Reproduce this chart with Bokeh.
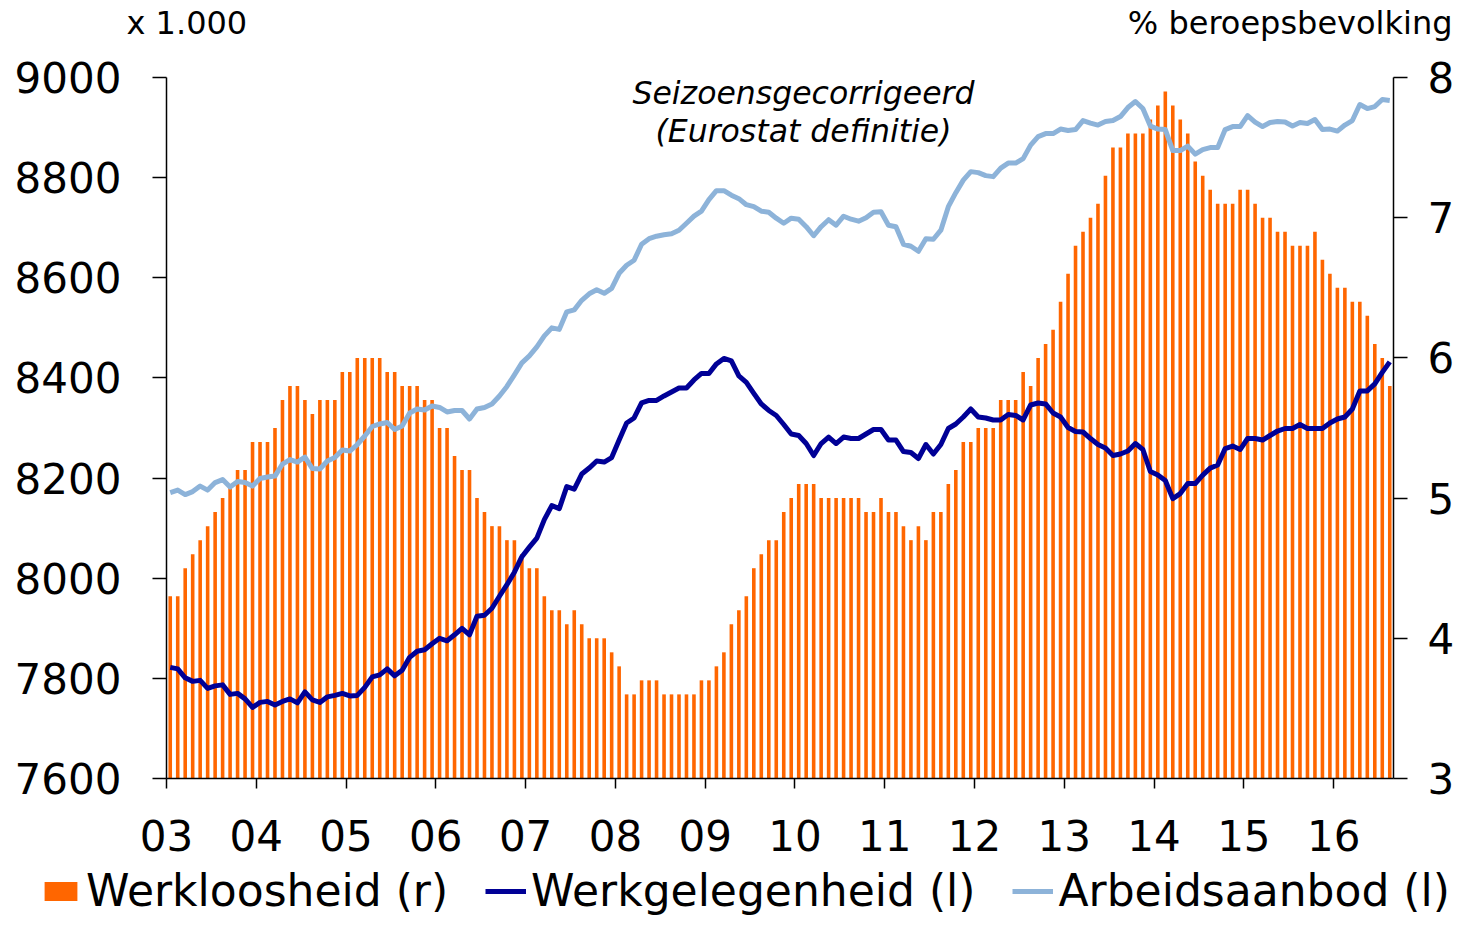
from bokeh.plotting import figure
from bokeh.models import (Range1d, LinearAxis, FixedTicker, Legend, LegendItem, Label)
from bokeh.embed import file_html
from bokeh.resources import INLINE

# ---- data (monthly, Jan 2003 .. Aug 2016) ----
year_labels = ["03", "04", "05", "06", "07", "08", "09", "10", "11", "12", "13", "14", "15", "16"]

werkloosheid = [
    4.3, 4.3, 4.5, 4.6, 4.7, 4.8, 4.9, 5.0, 5.1, 5.2, 5.2, 5.4, 5.4, 5.4, 5.5, 5.7, 5.8, 5.8, 5.7, 5.6,
    5.7, 5.7, 5.7, 5.9, 5.9, 6.0, 6.0, 6.0, 6.0, 5.9, 5.9, 5.8, 5.8,
    5.8, 5.7, 5.7, 5.5, 5.5, 5.3, 5.2, 5.2, 5.0, 4.9, 4.8, 4.8, 4.7, 4.7, 4.6, 4.5, 4.5, 4.3, 4.2, 4.2,
    4.1, 4.2, 4.1, 4.0, 4.0, 4.0, 3.9, 3.8, 3.6, 3.6, 3.7, 3.7,
    3.7, 3.6, 3.6, 3.6, 3.6, 3.6, 3.7, 3.7, 3.8, 3.9, 4.1, 4.2, 4.3, 4.5, 4.6, 4.7, 4.7, 4.9, 5.0, 5.1,
    5.1, 5.1, 5.0, 5.0, 5.0, 5.0, 5.0, 5.0, 4.9, 4.9, 5.0, 4.9,
    4.9, 4.8, 4.7, 4.8, 4.7, 4.9, 4.9, 5.1, 5.2, 5.4, 5.4, 5.5, 5.5, 5.5, 5.7, 5.7, 5.7, 5.9, 5.8, 6.0,
    6.1, 6.2, 6.4, 6.6, 6.8, 6.9, 7.0, 7.1, 7.3, 7.5, 7.5, 7.6,
    7.6, 7.6, 7.7, 7.8, 7.9, 7.8, 7.7, 7.6, 7.4, 7.3, 7.2, 7.1, 7.1, 7.1, 7.2, 7.2, 7.1, 7.0, 7.0, 6.9,
    6.9, 6.8, 6.8, 6.8, 6.9, 6.7, 6.6, 6.5, 6.5, 6.4, 6.4, 6.3, 6.1, 6.0, 5.8,
]

werkgelegenheid = [
    7822, 7819, 7801, 7794, 7796, 7780, 7785, 7787, 7768, 7770, 7759, 7742, 7752, 7754, 7747, 7754, 7759,
    7751, 7773, 7757, 7752, 7763, 7766, 7770, 7765, 7766, 7782, 7803, 7807, 7819, 7805, 7816, 7842,
    7854, 7857, 7869, 7880, 7875, 7887, 7900, 7887, 7924, 7926, 7940, 7964, 7987, 8012, 8043, 8062,
    8080, 8117, 8145, 8139, 8183, 8178, 8208, 8220, 8234, 8232, 8241, 8276, 8310, 8320, 8350, 8355,
    8355, 8364, 8372, 8380, 8380, 8396, 8409, 8409, 8428, 8439, 8434, 8404, 8391, 8369, 8348, 8335,
    8325, 8307, 8288, 8285, 8269, 8245, 8269, 8282, 8269, 8282, 8279, 8279, 8288, 8297, 8297, 8276,
    8276, 8253, 8251, 8239, 8267, 8248, 8267, 8299, 8308, 8322, 8338, 8322, 8320, 8316, 8316, 8327,
    8325, 8316, 8346, 8350, 8348, 8330, 8322, 8301, 8293, 8292, 8279, 8267, 8260, 8245, 8248, 8254,
    8269, 8257, 8213, 8206, 8195, 8159, 8169, 8189, 8189, 8206, 8220, 8226, 8259, 8264, 8257, 8279,
    8279, 8276, 8285, 8294, 8299, 8299, 8307, 8299, 8299, 8299, 8310, 8318, 8322, 8338, 8374, 8374,
    8388, 8411, 8432,
]

arbeidsaanbod = [
    8171, 8176, 8167, 8173, 8184, 8176, 8191, 8197, 8182, 8193, 8191, 8184, 8199, 8202, 8204, 8228, 8237,
    8232, 8242, 8219, 8218, 8234, 8241, 8256, 8254, 8267, 8284, 8303, 8308, 8311, 8297, 8304, 8330,
    8338, 8336, 8344, 8341, 8332, 8335, 8335, 8318, 8338, 8341, 8348, 8364, 8383, 8406, 8430, 8444,
    8462, 8484, 8500, 8497, 8532, 8536, 8555, 8568, 8576, 8569, 8579, 8609, 8625, 8635, 8667, 8678,
    8683, 8686, 8688, 8695, 8709, 8723, 8733, 8756, 8774, 8774, 8765, 8758, 8746, 8742, 8733, 8731,
    8719, 8709, 8719, 8717, 8702, 8684, 8702, 8716, 8705, 8723, 8717, 8713, 8720, 8731, 8732, 8705,
    8702, 8667, 8663, 8653, 8678, 8677, 8695, 8742, 8770, 8795, 8812, 8810, 8804, 8802, 8819, 8829,
    8829, 8838, 8865, 8882, 8888, 8888, 8897, 8894, 8896, 8914, 8909, 8905, 8912, 8914, 8922, 8940,
    8952, 8938, 8903, 8897, 8896, 8854, 8854, 8863, 8847, 8856, 8860, 8860, 8896, 8902, 8902, 8924,
    8911, 8902, 8910, 8912, 8911, 8903, 8910, 8908, 8916, 8896, 8897, 8893, 8905, 8914, 8946, 8938,
    8942, 8956, 8954,
]

left_ticks = [7600, 7800, 8000, 8200, 8400, 8600, 8800, 9000]
right_ticks = [3, 4, 5, 6, 7, 8]
months = list(range(len(werkloosheid)))

# ---- layout constants (pixels) ----
W, H = 1454, 916
FL, FR, FT, FB = 166, 1393, 77, 778          # where the axes sit on the canvas
FONT = "DejaVu Sans"
ORANGE = "#FF6600"
DARK = "#000096"
LIGHT = "#8DB3D9"

x0, x1 = -0.5, len(months) - 0.5
sx = (x1 - x0) / (FR - FL)
ly0, ly1 = left_ticks[0], left_ticks[-1]
sy = (ly1 - ly0) / (FB - FT)
ry0, ry1 = right_ticks[0], right_ticks[-1]
sr = (ry1 - ry0) / (FB - FT)

def px_x(px):
    return x0 + (px - FL) * sx

def px_y(py):
    return ly1 - (py - FT) * sy

p = figure(width=W, height=H, output_backend="svg", toolbar_location=None,
           x_range=Range1d(x0 - FL * sx, x1 + (W - FR) * sx),
           y_range=Range1d(ly0 - (H - FB) * sy, ly1 + FT * sy),
           min_border=0, x_axis_location=None, y_axis_location=None)
p.extra_y_ranges = {"pct": Range1d(ry0 - (H - FB) * sr, ry1 + FT * sr)}
p.outline_line_color = None
p.xgrid.visible = False
p.ygrid.visible = False
p.background_fill_color = "white"
p.border_fill_color = "white"

bars = p.vbar(x=months, top=werkloosheid, bottom=ry0, width=0.48, y_range_name="pct",
              fill_color=ORANGE, line_color=None)
l1 = p.line(months, werkgelegenheid, line_color=DARK, line_width=5, line_join="round")
l2 = p.line(months, arbeidsaanbod, line_color=LIGHT, line_width=5, line_join="round")

def style(ax, size="42px"):
    ax.minor_tick_line_color = None
    ax.major_tick_in = 0
    ax.major_label_text_font = FONT
    ax.major_label_text_font_size = size
    ax.major_label_text_color = "black"
    ax.axis_line_color = "black"
    ax.axis_line_width = 1.5
    ax.major_tick_line_color = "black"
    ax.major_tick_line_width = 1.5

# x axis
xt = [x0 + 12 * k for k in range(len(year_labels))]
xa = LinearAxis(ticker=FixedTicker(ticks=xt), fixed_location=ly0, bounds=(x0, x1))
xa.major_label_overrides = {t: lab for t, lab in zip(xt, year_labels)}
style(xa)
xa.major_tick_out = 10
xa.major_label_standoff = 31
p.add_layout(xa, "below")

# left axis
ya = LinearAxis(ticker=FixedTicker(ticks=left_ticks), fixed_location=x0, bounds=(ly0, ly1))
style(ya)
ya.major_tick_out = 14
ya.major_label_standoff = 31
p.add_layout(ya, "left")

# right axis
ra = LinearAxis(y_range_name="pct", ticker=FixedTicker(ticks=right_ticks),
                fixed_location=x1, bounds=(ry0, ry1))
style(ra)
ra.major_tick_out = 14
ra.major_label_standoff = 20
p.add_layout(ra, "right")

# annotations
lab_kw = dict(text_font=FONT, text_color="black", text_baseline="middle")
p.add_layout(Label(x=px_x(803), y=px_y(92), text="Seizoensgecorrigeerd", text_font_style="italic",
                   text_font_size="31.5px", text_align="center", **lab_kw))
p.add_layout(Label(x=px_x(803), y=px_y(130), text="(Eurostat definitie)", text_font_style="italic",
                   text_font_size="31.5px", text_align="center", **lab_kw))
p.add_layout(Label(x=px_x(126), y=px_y(22), text="x 1.000", text_font_size="32px",
                   text_align="left", **lab_kw))
p.add_layout(Label(x=px_x(1452), y=px_y(22), text="% beroepsbevolking", text_font_size="32px",
                   text_align="right", **lab_kw))

legend = Legend(items=[LegendItem(label="Werkloosheid (r)", renderers=[bars]),
                       LegendItem(label="Werkgelegenheid (l)", renderers=[l1]),
                       LegendItem(label="Arbeidsaanbod (l)", renderers=[l2])],
                orientation="horizontal", location=(40, 0),
                border_line_color=None, background_fill_alpha=0, padding=0, margin=0,
                spacing=37, glyph_width=41, glyph_height=24, label_standoff=5,
                label_text_font=FONT, label_text_font_size="44px", label_text_color="black")
p.add_layout(legend)

open("out.html", "w").write(file_html(p, INLINE))
